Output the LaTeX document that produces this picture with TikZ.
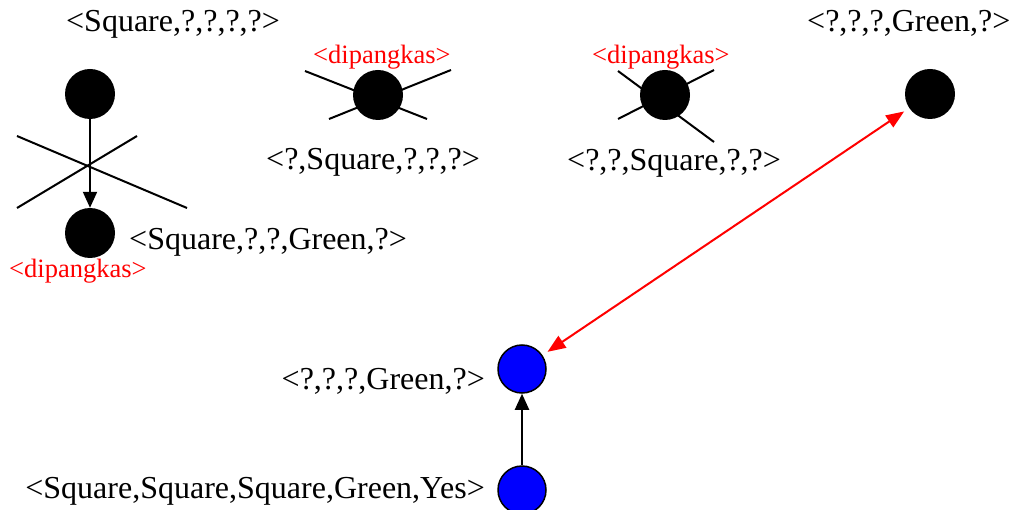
\documentclass[tikz,border=0pt]{standalone}
\usepackage{fontspec}
\setmainfont{Liberation Serif}
\usetikzlibrary{arrows.meta}
\definecolor{prunered}{HTML}{FF0000}
\definecolor{keepblue}{HTML}{0000FF}

\begin{document}
\begin{tikzpicture}[x=1pt,y=-1pt,
  tnode/.style={circle, fill=black, minimum size=50pt, inner sep=0pt},
  kept/.style={circle, draw=black, fill=keepblue, line width=1.5pt, minimum size=48pt, inner sep=0pt},
  tuple/.style={font=\fontsize{32}{38}\selectfont, inner sep=0pt},
  pruned/.style={text=prunered, font=\fontsize{26.5}{30}\selectfont, inner sep=0pt},
  link/.style={line width=2pt, -{Triangle[length=16pt,width=14pt]}},
  match/.style={prunered, line width=2pt, {Triangle[length=18pt,width=14pt]}-{Triangle[length=18pt,width=14pt]}, shorten <=6pt, shorten >=6pt},
  strike/.style={line width=2pt}]
  \useasboundingbox (0,0) rectangle (1016,510);

  % strikes behind the pruned nodes
  \draw[strike] (305,71) -- (427,119);
  \draw[strike] (329,119) -- (451,70);
  \draw[strike] (618,71) -- (714,142);
  \draw[strike] (618,119) -- (714,70);

  % nodes
  \node[tnode] (nA) at (90,94) {};
  \node[tnode] (nB) at (90,233) {};
  \node[tnode] (nC) at (378,95) {};
  \node[tnode] (nD) at (665,95) {};
  \node[tnode] (nE) at (930,94) {};
  \node[kept] (nF) at (522,369) {};
  \node[kept] (nG) at (522,490) {};

  % labels
  \node[tuple, anchor=base west] (tA) at (66,32) {<Square,?,?,?,?>};
  \node[tuple, anchor=base west] (tB) at (129,250) {<Square,?,?,Green,?>};
  \node[tuple, anchor=base west] (tC) at (266,170) {<?,Square,?,?,?>};
  \node[tuple, anchor=base west] (tD) at (567,171) {<?,?,Square,?,?>};
  \node[tuple, anchor=base west] (tE) at (807,32) {<?,?,?,Green,?>};
  \node[tuple, anchor=base east] (tF) at (485,389) {<?,?,?,Green,?>};
  \node[tuple, anchor=base east] (tG) at (485,498) {<Square,Square,Square,Green,Yes>};
  \node[pruned, anchor=base west] (pB) at (9,278) {<dipangkas>};
  \node[pruned, anchor=base west] (pC) at (313,64) {<dipangkas>};
  \node[pruned, anchor=base west] (pD) at (592,64) {<dipangkas>};

  % connectors
  \draw[link] (nA) -- (nB);
  \draw[strike] (17,136) -- (187,208);
  \draw[strike] (17,208) -- (137,136);
  \draw[link] (nG) -- (nF);
  \draw[match] (nF) -- (nE);
\end{tikzpicture}
\end{document}
